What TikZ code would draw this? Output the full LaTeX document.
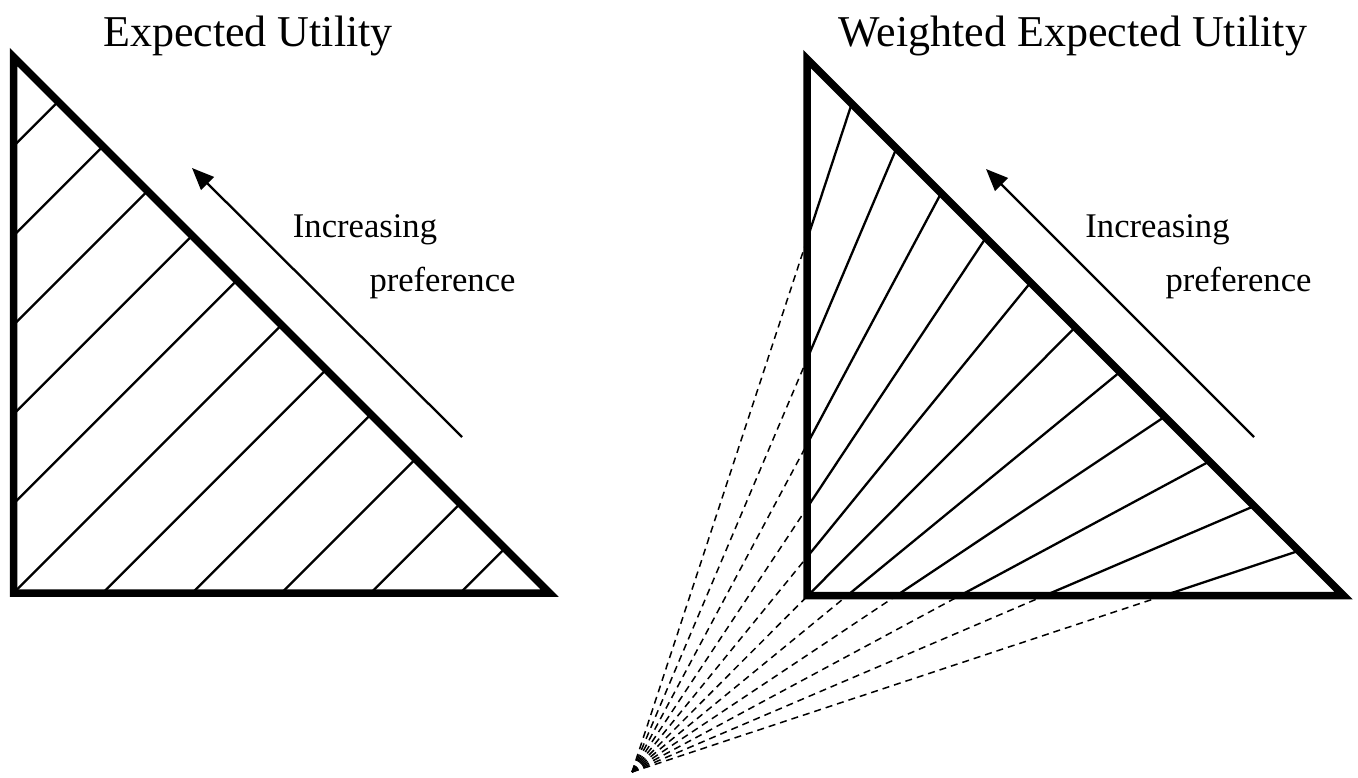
\documentclass[tikz,border=0pt]{standalone}
\usepackage{fontspec}
\setmainfont{Liberation Serif}
\usetikzlibrary{arrows.meta,calc}
\begin{document}
\begin{tikzpicture}[x=0.5pt,y=-0.5pt,
  tri/.style={line width=3.75pt, line join=miter},
  hatch/.style={line width=1.15pt},
  ray/.style={line width=0.75pt, dash pattern=on 3.5pt off 2.5pt},
  pref/.style={line width=1.15pt, -{Triangle[length=11pt,width=9pt]}},
  title/.style={font=\fontsize{22}{26}\selectfont, anchor=base, inner sep=0pt},
  lbl/.style={font=\fontsize{17.3}{20}\selectfont, anchor=base, inner sep=0pt}]
\useasboundingbox (0,0) rectangle (1358,777);
% ---------- left triangle ----------
\coordinate (LA) at (13.5,57);
\coordinate (LB) at (13.5,593);
\coordinate (LC) at (549.5,593);
\foreach \j in {1,...,11} {
  \pgfmathsetmacro{\hx}{13.5+\j*536/12}
  \pgfmathsetmacro{\hy}{57+\j*536/12}
  \pgfmathsetmacro{\cc}{\hx+\hy}
  \coordinate (LH\j) at (\hx,\hy);
  \ifnum\j<7
    \pgfmathsetmacro{\ey}{\cc-13.5}
    \coordinate (LE\j) at (13.5,\ey);
  \else
    \pgfmathsetmacro{\ex}{\cc-593}
    \coordinate (LE\j) at (\ex,593);
  \fi
  \draw[hatch] (LE\j) -- (LH\j);
}
\draw[tri] (LA) -- (LB) -- (LC) -- cycle;
% ---------- right triangle ----------
\coordinate (RA) at (807,59);
\coordinate (RB) at (807,595.5);
\coordinate (RC) at (1343.5,595.5);
\coordinate (F) at (632,772);
\foreach \j in {1,...,11} {
  \pgfmathsetmacro{\hx}{807+\j*536.5/12}
  \pgfmathsetmacro{\hy}{59+\j*536.5/12}
  \coordinate (RH\j) at (\hx,\hy);
  \ifnum\j<7
    \pgfmathsetmacro{\tt}{(807-632)/(\hx-632)}
    \pgfmathsetmacro{\ey}{772+\tt*(\hy-772)}
    \coordinate (RE\j) at (807,\ey);
  \else
    \pgfmathsetmacro{\tt}{(595.5-772)/(\hy-772)}
    \pgfmathsetmacro{\ex}{632+\tt*(\hx-632)}
    \coordinate (RE\j) at (\ex,595.5);
  \fi
  \draw[ray] (F) -- (RE\j);
  \draw[hatch] (RE\j) -- (RH\j);
}
\draw[tri] (RA) -- (RB) -- (RC) -- cycle;
% ---------- arrows ----------
\coordinate (LT) at (462,437);
\coordinate (LP) at (192,168);
\draw[pref] (LT) -- (LP);
\coordinate (RT) at (1254,437);
\coordinate (RP) at (986,169);
\draw[pref] (RT) -- (RP);
% ---------- texts ----------
\node[title] (t1) at (248,46.5) {Expected Utility};
\node[title] (t2) at (1073,46.5) {Weighted Expected Utility};
\node[lbl] (i1) at (365,237) {Increasing};
\node[lbl] (p1) at (442.5,291) {preference};
\node[lbl] (i2) at (1157.5,237) {Increasing};
\node[lbl] (p2) at (1238.5,291) {preference};
\end{tikzpicture}
\end{document}
